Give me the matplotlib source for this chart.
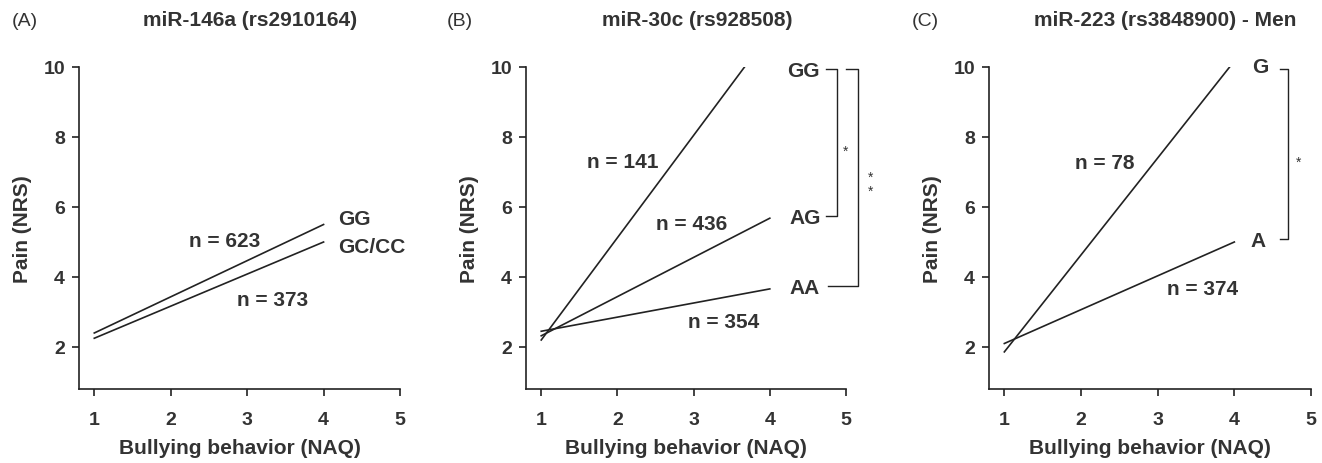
import numpy as np
import matplotlib.pyplot as plt

plt.rcParams['font.family'] = ['Liberation Sans', 'DejaVu Sans']

# data
x_naq = [1, 4]

# (A) miR-146a
a_gg = [2.40, 5.50]
a_gccc = [2.25, 5.00]

# (B) miR-30c
b_gg = [2.20, 10.97]
b_ag = [2.32, 5.68]
b_aa = [2.45, 3.66]

# (C) miR-223 men
c_g = [1.86, 10.17]
c_a = [2.10, 5.00]

titles = ["miR-146a (rs2910164)", "miR-30c (rs928508)", "miR-223 (rs3848900) - Men"]
panels = ["(A)", "(B)", "(C)"]

txt = '#333333'
lc = '#222222'

fig = plt.figure(figsize=(13.22, 4.64), dpi=100)

# axes boxes in pixels: left, right
boxes = [(79, 400), (526, 846), (989, 1311)]
top, bottom = 68, 390
W, H = 1322, 464
axes = []
for (l, r) in boxes:
    ax = fig.add_axes([l / W, 1 - bottom / H, (r - l) / W, (bottom - top) / H])
    ax.set_xlim(0.8, 5)
    ax.set_ylim(0.8, 10)
    ax.set_xticks([1, 2, 3, 4, 5])
    ax.set_yticks([2, 4, 6, 8, 10])
    for s in ['top', 'right']:
        ax.spines[s].set_visible(False)
    for s in ['left', 'bottom']:
        ax.spines[s].set_color(lc)
        ax.spines[s].set_linewidth(1.2)
    ax.tick_params(direction='out', length=5, width=1.2, color=lc,
                   labelsize=14, labelcolor=txt)
    ax.tick_params(axis='x', pad=11)
    ax.tick_params(axis='y', pad=5)
    for lab in ax.get_xticklabels() + ax.get_yticklabels():
        lab.set_fontweight('bold')
    ax.set_xlabel("Bullying behavior (NAQ)", fontsize=15, fontweight='bold',
                  color=txt, labelpad=7)
    ax.set_ylabel("Pain (NRS)", fontsize=15, fontweight='bold', color=txt,
                  labelpad=8)
    axes.append(ax)

lw = 1.2
tk = dict(fontsize=15, fontweight='bold', color=txt, ha='center', va='center')
gk = dict(fontsize=15, fontweight='bold', color=txt, ha='center', va='center')
sk = dict(fontsize=10, color=txt, ha='center', va='center')

# panel A
ax = axes[0]
ax.plot(x_naq, a_gg, color=lc, lw=lw)
ax.plot(x_naq, a_gccc, color=lc, lw=lw)
ax.text(2.71, 5.05, "n = 623", **tk)
ax.text(3.33, 3.35, "n = 373", **tk)
ax.text(4.19, 5.67, "GG", fontsize=15, fontweight='bold', color=txt,
        ha='left', va='center')
ax.text(4.19, 4.87, "GC/CC", fontsize=15, fontweight='bold', color=txt,
        ha='left', va='center')

# panel B
ax = axes[1]
ax.plot(x_naq, b_gg, color=lc, lw=lw)
ax.plot(x_naq, b_ag, color=lc, lw=lw)
ax.plot(x_naq, b_aa, color=lc, lw=lw)
ax.text(2.07, 7.29, "n = 141", **tk)
ax.text(2.98, 5.53, "n = 436", **tk)
ax.text(3.39, 2.74, "n = 354", **tk)
ax.text(4.44, 9.9, "GG", **gk)
ax.text(4.47, 5.7, "AG", **gk)
ax.text(4.46, 3.7, "AA", **gk)
ax.plot([4.74, 4.88, 4.88, 4.74], [9.95, 9.95, 5.75, 5.75], color=lc,
        lw=1.0, clip_on=False)
ax.text(5.0, 7.6, "*", **sk)
ax.plot([5.0, 5.16, 5.16, 4.76], [9.95, 9.95, 3.75, 3.75], color=lc,
        lw=1.0, clip_on=False)
ax.text(5.32, 6.85, "*", **sk)
ax.text(5.32, 6.45, "*", **sk)

# panel C
ax = axes[2]
ax.plot(x_naq, c_g, color=lc, lw=lw)
ax.plot(x_naq, c_a, color=lc, lw=lw)
ax.text(2.31, 7.26, "n = 78", **tk)
ax.text(3.59, 3.66, "n = 374", **tk)
ax.text(4.34, 10.0, "G", **gk)
ax.text(4.31, 5.05, "A", **gk)
ax.plot([4.6, 4.70, 4.70, 4.6], [9.95, 9.95, 5.1, 5.1], color=lc,
        lw=1.0, clip_on=False)
ax.text(4.84, 7.3, "*", **sk)

# titles and panel letters
title_x = [250, 697, 1165]
panel_x = [12, 447, 912]
for i in range(3):
    fig.text(title_x[i] / W, 1 - 21 / H, titles[i], fontsize=15,
             fontweight='bold', color=txt, ha='center', va='center')
    fig.text(panel_x[i] / W, 1 - 21 / H, panels[i], fontsize=14,
             color=txt, ha='left', va='center')

fig.savefig("out.png", dpi=100)
